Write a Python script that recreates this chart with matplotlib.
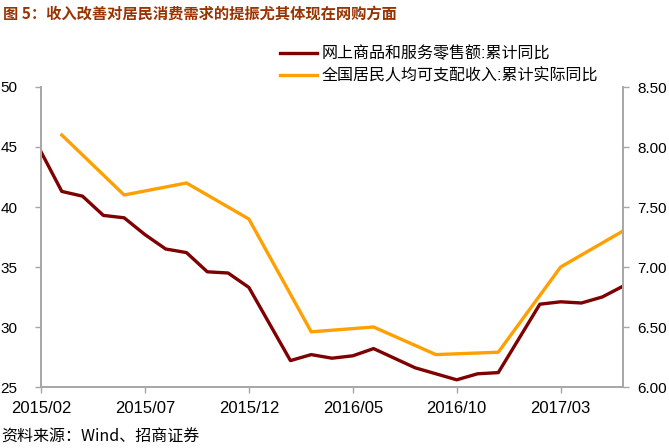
import numpy as np
import matplotlib
matplotlib.use("Agg")
import matplotlib.pyplot as plt

plt.rcParams['font.family'] = ['Liberation Sans', 'Noto Sans CJK SC']

# monthly categories 2015/02 .. 2017/06
months = ["2015/02", "2015/03", "2015/04", "2015/05", "2015/06", "2015/07",
          "2015/08", "2015/09", "2015/10", "2015/11", "2015/12", "2016/01",
          "2016/02", "2016/03", "2016/04", "2016/05", "2016/06", "2016/07",
          "2016/08", "2016/09", "2016/10", "2016/11", "2016/12", "2017/01",
          "2017/02", "2017/03", "2017/04", "2017/05", "2017/06"]
tick_labels = ["2015/02", "2015/07", "2015/12", "2016/05", "2016/10", "2017/03"]

nan = np.nan
online_retail = [44.6, 41.3, 40.9, 39.3, 39.1, 37.7, 36.5, 36.2, 34.6, 34.5, 33.3, nan,
                 27.2, 27.7, 27.4, 27.6, 28.2, 27.4, 26.6, 26.1, 25.6, 26.1, 26.2, nan,
                 31.9, 32.1, 32.0, 32.5, 33.4]
income = [nan, 8.10, nan, nan, 7.60, nan, nan, 7.70, nan, nan, 7.40, nan,
          nan, 6.46, nan, nan, 6.50, nan, nan, 6.27, nan, nan, 6.29, nan,
          nan, 7.00, nan, nan, 7.30]

label_red = "网上商品和服务零售额:累计同比"
label_orange = "全国居民人均可支配收入:累计实际同比"

RED = "#7f0000"
ORANGE = "#ffa000"
GRAY = "#a6a6a6"

fig = plt.figure(figsize=(6.69, 4.48), dpi=100)
ax = fig.add_axes([41 / 669, 61 / 448, 582 / 669, 300 / 448])
ax2 = ax.twinx()

x = np.arange(len(months))
r = np.array(online_retail)
o = np.array(income)
mr = ~np.isnan(r)
mo = ~np.isnan(o)
l1, = ax.plot(x[mr], r[mr], color=RED, lw=2.4, solid_joinstyle='round')
l2, = ax2.plot(x[mo], o[mo], color=ORANGE, lw=2.4, solid_joinstyle='round')

ax.set_xlim(0, len(months) - 1)
ax.set_ylim(25, 50)
ax2.set_ylim(6.0, 8.5)
ax.set_yticks(np.arange(25, 51, 5))
ax2.set_yticks(np.arange(6.0, 8.51, 0.5))
ax2.set_yticklabels(["%.2f" % v for v in np.arange(6.0, 8.51, 0.5)])
ax.set_xticks([months.index(t) for t in tick_labels])
ax.set_xticklabels(tick_labels)

for a in (ax, ax2):
    a.spines['top'].set_visible(False)
    for s in ('left', 'right', 'bottom'):
        a.spines[s].set_color(GRAY)
        a.spines[s].set_linewidth(1.2)
    a.tick_params(colors=GRAY, labelcolor="black", labelsize=11, length=4, width=1)
ax.tick_params(axis='x', pad=6, labelsize=12)
ax.tick_params(axis='y', pad=13)
ax2.tick_params(axis='y', pad=6)

fig.legend([l1, l2], [label_red, label_orange], loc='upper left',
           bbox_to_anchor=(266 / 669, 1 - 31 / 448), frameon=False,
           fontsize=11.5, handlelength=2.3, handletextpad=0.3, labelspacing=0.45)

fig.text(0.004, 1 - 14 / 448, "图 5：收入改善对居民消费需求的提振尤其体现在网购方面",
         fontsize=11, fontweight='bold', color="#993300", va='center', ha='left',
         family=['Noto Sans CJK SC'])
fig.text(0.002, 1 - 437 / 448, "资料来源：Wind、招商证券", fontsize=11.5,
         va='center', ha='left', family=['Noto Sans CJK SC', 'Liberation Sans'])

fig.savefig("out.png", dpi=100)
